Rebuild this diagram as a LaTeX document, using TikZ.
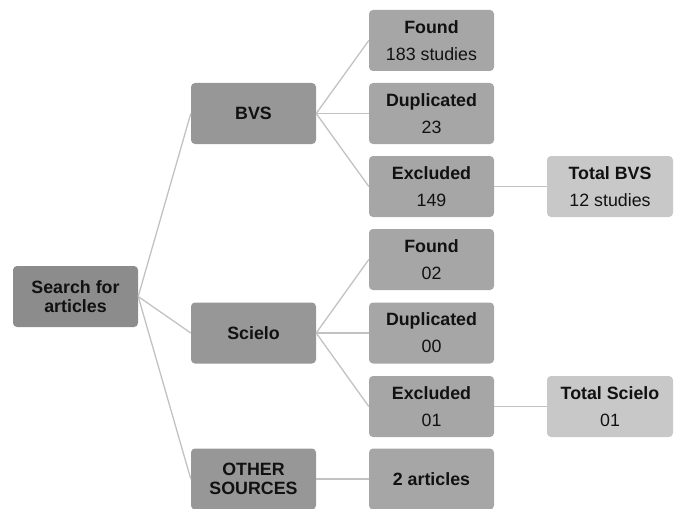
\documentclass[tikz,border=0pt]{standalone}
\usepackage{fontspec}
\setmainfont{Liberation Sans}
\usetikzlibrary{positioning}
\definecolor{search-gray}{HTML}{8C8C8C}
\definecolor{source-gray}{HTML}{979797}
\definecolor{count-gray}{HTML}{A6A6A6}
\definecolor{total-gray}{HTML}{C8C8C8}
\definecolor{link-gray}{HTML}{C2C2C2}
\definecolor{ink}{HTML}{111111}
\newcommand\hd[1]{\textbf{#1}}
\tikzset{
    x=1pt,y=-1pt,
    box/.style ={rectangle, rounded corners=4pt, minimum width=125pt, minimum height=61pt,
                 inner sep=2pt, align=center, text=ink, font=\fontsize{17.8}{19}\selectfont},
    hub/.style = {box, fill=search-gray},
    src/.style = {box, fill=source-gray},
    countbox/.style = {box, fill=count-gray, font=\fontsize{17.8}{27}\selectfont},
    totalbox/.style = {box, fill=total-gray, minimum width=126pt, font=\fontsize{17.8}{27}\selectfont},
    link/.style = {draw=link-gray, line width=1.3pt}
}
\begin{document}
\begin{tikzpicture}
      \useasboundingbox (0,0) rectangle (679,508);
      \node[hub] (search) at (75.5,296.5) {\hd{Search for}\\\hd{articles}};

      \node[src] (bvs) at (253.5,113.5) {\hd{BVS}};
      \node[src] (scielo) at (253.5,333) {\hd{Scielo}};
      \node[src] (other) at (253.5,479) {\hd{OTHER}\\\hd{SOURCES}};

      \node[countbox] (bvsfound) at (431.5,40.5) {\hd{Found}\\183 studies};
      \node[countbox] (bvsdup) at (431.5,113.5) {\hd{Duplicated}\\23};
      \node[countbox] (bvsexcl) at (431.5,186.5) {\hd{Excluded}\\149};
      \node[countbox] (scfound) at (431.5,259.5) {\hd{Found}\\02};
      \node[countbox] (scdup) at (431.5,333) {\hd{Duplicated}\\00};
      \node[countbox] (scexcl) at (431.5,406.5) {\hd{Excluded}\\01};
      \node[countbox] (articles) at (431.5,479) {\hd{2 articles}};

      \node[totalbox] (bvstotal) at (610,186.5) {\hd{Total BVS}\\12 studies};
      \node[totalbox] (sctotal) at (610,406.5) {\hd{Total Scielo}\\01};

      % tree branches
      \foreach \to in {bvs,scielo,other}
        \path[link] (search.east) -- (\to.west);
      \foreach \to in {bvsfound,bvsdup,bvsexcl}
        \path[link] (bvs.east) -- (\to.west);
      \foreach \to in {scfound,scdup,scexcl}
        \path[link] (scielo.east) -- (\to.west);
      \path[link] (other) -- (articles);
      \path[link] (bvsexcl) -- (bvstotal);
      \path[link] (scexcl) -- (sctotal);
    \end{tikzpicture}
\end{document}
